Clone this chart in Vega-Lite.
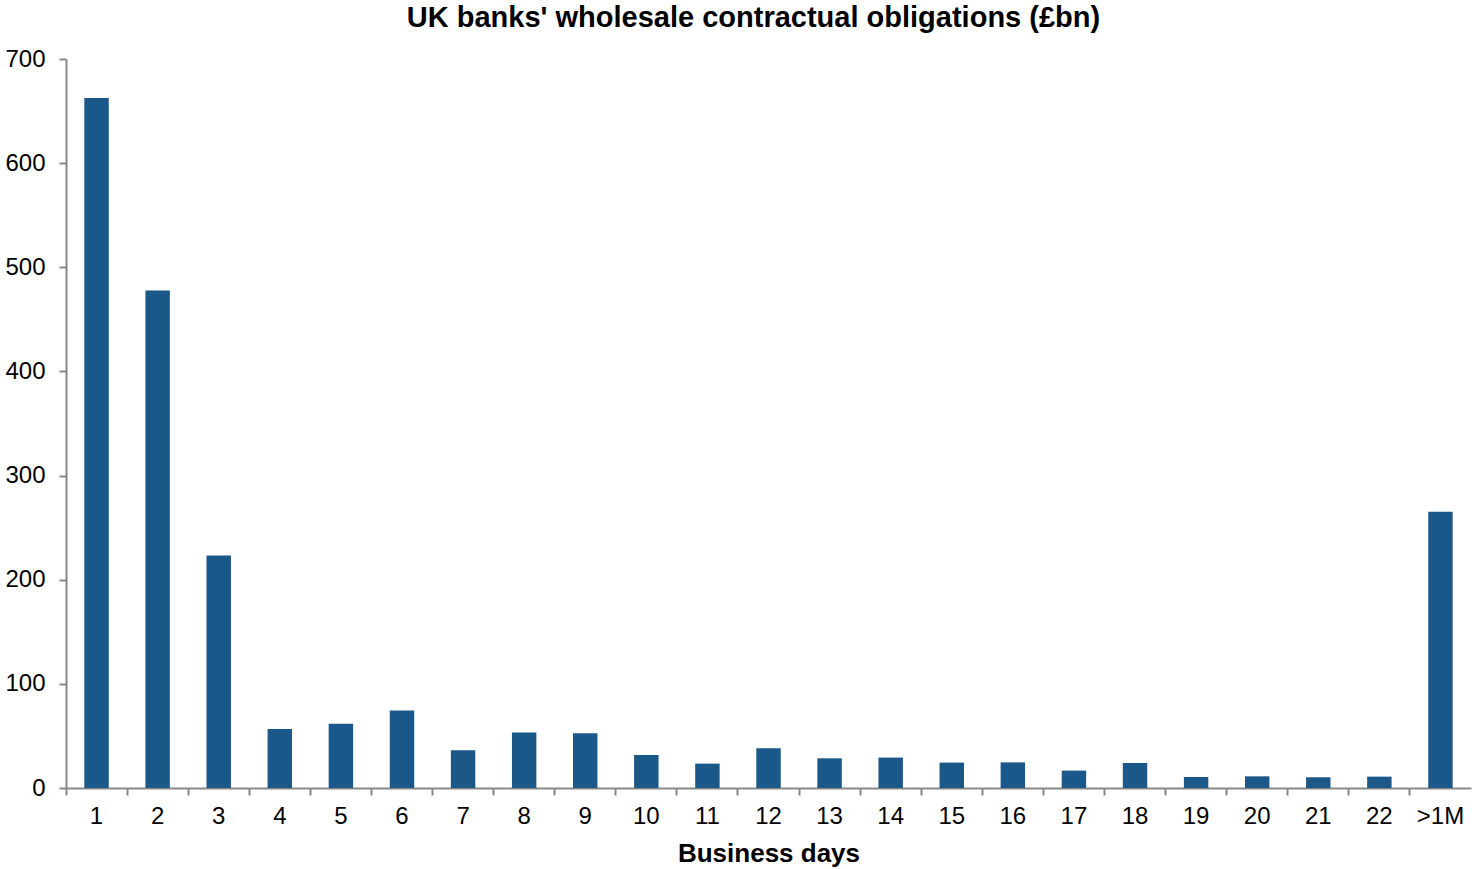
{
  "$schema": "https://vega.github.io/schema/vega-lite/v6.json",
  "autosize": "none",
  "width": 1405,
  "height": 729,
  "padding": {"left": 66, "top": 59, "right": 1, "bottom": 81},
  "background": "white",
  "title": {
    "text": "UK banks' wholesale contractual obligations (£bn)",
    "font": "Liberation Sans",
    "fontSize": 29,
    "fontWeight": "bold",
    "color": "#000000",
    "anchor": "middle",
    "dx": -15,
    "offset": 14
  },
  "data": {
    "values": [
      {"day": "1", "value": 662.5},
      {"day": "2", "value": 477.6},
      {"day": "3", "value": 223.3},
      {"day": "4", "value": 56.7},
      {"day": "5", "value": 61.8},
      {"day": "6", "value": 74.3},
      {"day": "7", "value": 36.2},
      {"day": "8", "value": 53.2},
      {"day": "9", "value": 52.5},
      {"day": "10", "value": 31.7},
      {"day": "11", "value": 23.4},
      {"day": "12", "value": 38.1},
      {"day": "13", "value": 28.5},
      {"day": "14", "value": 29.2},
      {"day": "15", "value": 24.4},
      {"day": "16", "value": 24.6},
      {"day": "17", "value": 16.7},
      {"day": "18", "value": 24.0},
      {"day": "19", "value": 10.6},
      {"day": "20", "value": 11.2},
      {"day": "21", "value": 10.3},
      {"day": "22", "value": 10.9},
      {"day": ">1M", "value": 265.2}
    ]
  },
  "mark": {"type": "bar", "color": "#195888", "width": {"band": 0.4}},
  "encoding": {
    "x": {
      "field": "day",
      "type": "ordinal",
      "sort": null,
      "scale": {"paddingInner": 0, "paddingOuter": 0},
      "axis": {
        "title": "Business days",
        "titleFont": "Liberation Sans",
        "titleFontSize": 26,
        "titleFontWeight": "bold",
        "titleColor": "#000000",
        "titlePadding": 12,
        "labelFont": "Liberation Sans",
        "labelFontSize": 24,
        "labelColor": "#000000",
        "labelAngle": 0,
        "labelPadding": 9,
        "bandPosition": 0,
        "tickColor": "#888888",
        "tickSize": 7,
        "tickWidth": 2,
        "domainColor": "#888888",
        "domainWidth": 2,
        "grid": false
      }
    },
    "y": {
      "field": "value",
      "type": "quantitative",
      "scale": {"domain": [0, 700]},
      "axis": {
        "title": null,
        "values": [0, 100, 200, 300, 400, 500, 600, 700],
        "labelFont": "Liberation Sans",
        "labelFontSize": 24,
        "labelColor": "#000000",
        "labelPadding": 14,
        "tickColor": "#888888",
        "tickSize": 7,
        "tickWidth": 2,
        "domainColor": "#888888",
        "domainWidth": 2,
        "grid": false
      }
    }
  },
  "config": {"view": {"stroke": null}}
}
